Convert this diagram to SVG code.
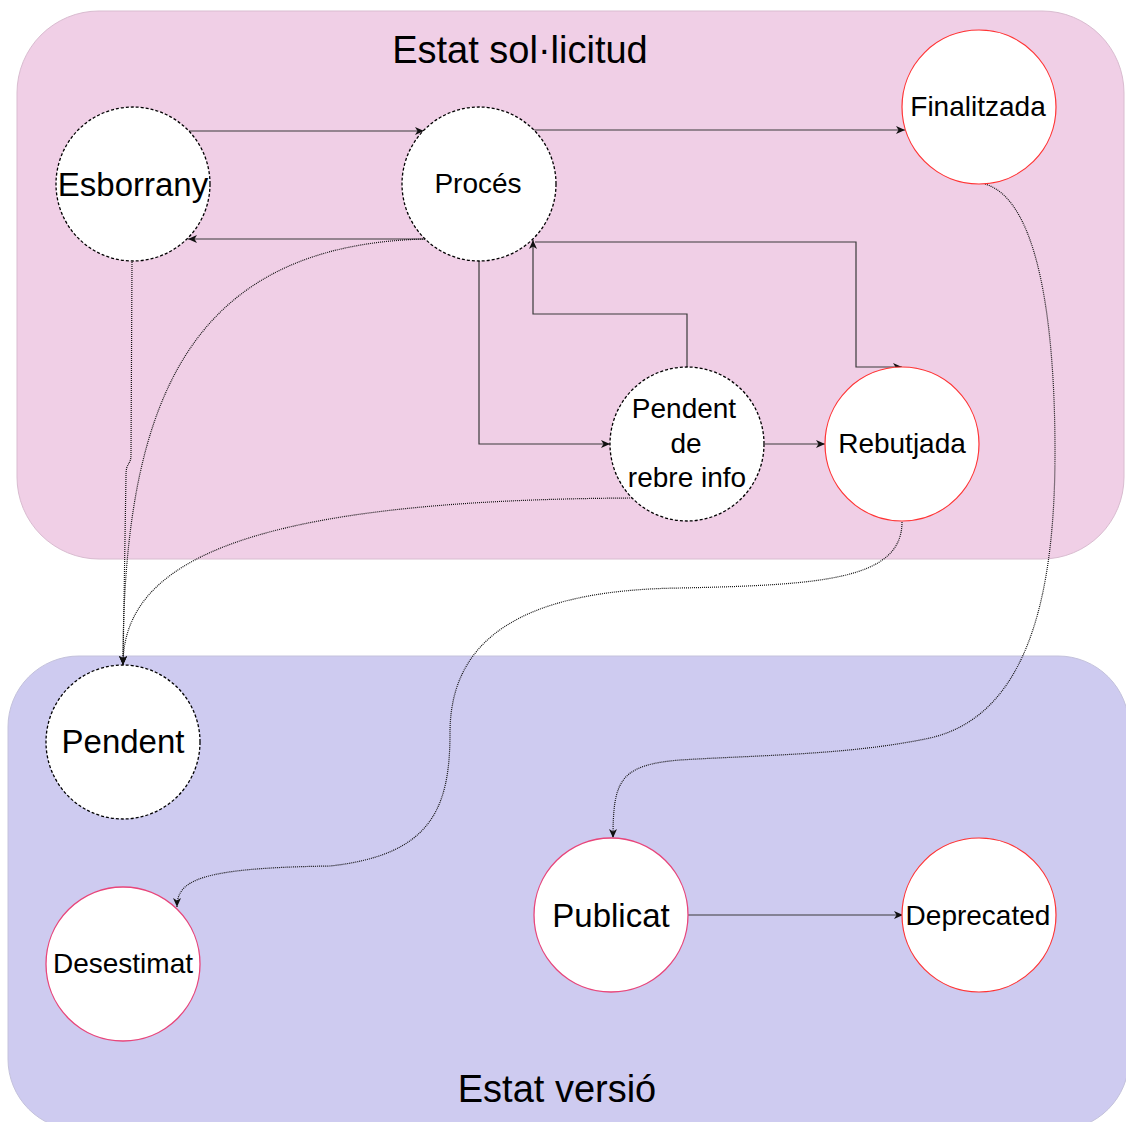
<svg xmlns="http://www.w3.org/2000/svg" width="1126" height="1122" viewBox="0 0 1126 1122">
<defs>
<style>
.lbl{font-family:"Liberation Sans",Arial,Helvetica,sans-serif;fill:#000;text-anchor:middle}
.s28{font-size:28px}
.s33{font-size:33px}
.s38{font-size:38px}
.dash{fill:#fff;stroke:#000;stroke-width:1.3;stroke-dasharray:3 2}
.red{fill:#fff;stroke:#ff3333;stroke-width:1.2}
.pink{fill:#fff;stroke:#e8457a;stroke-width:1.3}
.solid{fill:none;stroke:#3a3a3a;stroke-width:1.2;marker-end:url(#arr)}
.dot{fill:none;stroke:#111;stroke-width:1.2;stroke-dasharray:1 1;marker-end:url(#arr)}
</style>
<marker id="arr" markerUnits="userSpaceOnUse" markerWidth="10" markerHeight="10" refX="9" refY="4" orient="auto">
<path d="M0,0 L9,4 L0,8 L2.5,4 z" fill="#111"/>
</marker>
</defs>

<g id="container-sollicitud">
<rect x="17" y="11" width="1107" height="548" rx="82" ry="82" fill="#f0cfe6" stroke="#d9bcd0" stroke-width="1"/>
<text class="lbl s38" x="520" y="63">Estat sol·licitud</text>
</g>
<g id="container-versio">
<rect x="8" y="656" width="1121" height="474" rx="71" ry="71" fill="#cecbf0" stroke="#c4c2dc" stroke-width="1"/>
<text class="lbl s38" x="557" y="1102">Estat versió</text>
</g>

<g id="connectors">
<path class="solid" d="M189,131 L424,131"/>
<path class="solid" d="M534,130 L905,130"/>
<path class="solid" d="M425,239 L188,239"/>
<path class="solid" d="M479,261 L479,444 L610,444"/>
<path class="solid" d="M687,367 L687,314 L533,314 L533,240"/>
<path class="solid" d="M535,242 L856,242 L856,367 L902,367"/>
<path class="solid" d="M765,444 L825,444"/>
<path class="solid" d="M688,915 L903,915"/>
<path class="dot" d="M132,262 L131,455 C131,465 126,462 126,475 L123,665"/>
<path class="dot" d="M425,239 C190,245 123,400 123,665"/>
<path class="dot" d="M632,498 C250,500 123,560 123,665"/>
<path class="dot" d="M902,522 C902,580 820,585 680,588 C520,590 450,640 450,733 C450,810 430,855 330,866 C200,868 177,880 177,907"/>
<path class="dot" d="M985,184 C1040,200 1055,330 1055,452 C1055,590 1030,715 930,738 C850,755 760,755 680,760 C620,765 613,780 613,838"/>
</g>

<g id="node-esborrany">
<circle class="dash" cx="133" cy="184" r="77"/>
<text class="lbl s33" x="133" y="196">Esborrany</text>
</g>
<g id="node-proces">
<circle class="dash" cx="479" cy="184" r="77"/>
<text class="lbl s28" x="478" y="193">Procés</text>
</g>
<g id="node-finalitzada">
<circle class="red" cx="979" cy="107" r="77"/>
<text class="lbl s28" x="978" y="116">Finalitzada</text>
</g>
<g id="node-pendent-info">
<circle class="dash" cx="687" cy="444" r="77"/>
<text class="lbl s28" x="684" y="418">Pendent</text>
<text class="lbl s28" x="686" y="453">de</text>
<text class="lbl s28" x="687" y="487">rebre info</text>
</g>
<g id="node-rebutjada">
<circle class="red" cx="902" cy="444" r="77"/>
<text class="lbl s28" x="902" y="453">Rebutjada</text>
</g>
<g id="node-pendent">
<circle class="dash" cx="123" cy="742" r="77"/>
<text class="lbl s33" x="123" y="753">Pendent</text>
</g>
<g id="node-desestimat">
<circle class="pink" cx="123" cy="964" r="77"/>
<text class="lbl s28" x="123" y="973">Desestimat</text>
</g>
<g id="node-publicat">
<circle class="pink" cx="611" cy="915" r="77"/>
<text class="lbl s33" x="611" y="927">Publicat</text>
</g>
<g id="node-deprecated">
<circle class="red" cx="979" cy="915" r="77"/>
<text class="lbl s28" x="978" y="925">Deprecated</text>
</g>
</svg>
